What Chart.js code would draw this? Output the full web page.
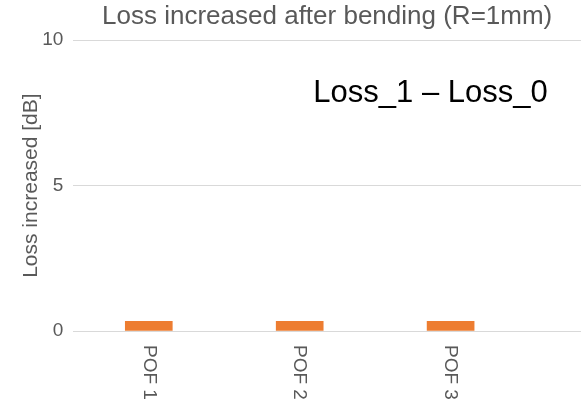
<!DOCTYPE html>
<html>
<head>
<meta charset="utf-8">
<script src="https://cdn.jsdelivr.net/npm/chart.js@4.4.0/dist/chart.umd.min.js"></script>
<style>
    body { margin: 0; background: #fff; }
    #wrap { width: 581px; height: 405px; position: relative; }
</style>
</head>
<body>
<div id="wrap"><canvas id="loss-chart"></canvas></div>
<script>
const categories = ['POF 1', 'POF 2', 'POF 3'];
const lossValues = [0.33, 0.33, 0.33];
const yTicks = [0, 5, 10];

const chartTitle = 'Loss increased after bending (R=1mm)';
const yTitle = 'Loss increased [dB]';
const noteText = 'Loss_1 \u2013 Loss_0';

const FONT = '"Liberation Sans", Arial, sans-serif';
const GREY = '#595959';

// x labels read top-to-bottom, chart.js only rotates the other way so draw them here
const xLabelsPlugin = {
    id: 'xLabels',
    afterDraw(chart) {
        const ctx = chart.ctx;
        const x = chart.scales.x;
        ctx.save();
        ctx.font = '19px ' + FONT;
        ctx.fillStyle = GREY;
        ctx.textAlign = 'left';
        ctx.textBaseline = 'middle';
        for (let i in categories) {
            const px = x.getPixelForValue(Number(i) + 1);
            ctx.save();
            ctx.translate(px, chart.chartArea.bottom + 14);
            ctx.rotate(Math.PI / 2);
            ctx.fillText(categories[i], 0, 0);
            ctx.restore();
        }
        ctx.restore();
    }
};

const notePlugin = {
    id: 'note',
    afterDraw(chart) {
        const ctx = chart.ctx;
        ctx.save();
        ctx.font = '31px ' + FONT;
        ctx.fillStyle = '#000';
        ctx.textAlign = 'left';
        ctx.textBaseline = 'alphabetic';
        ctx.fillText(noteText, chart.chartArea.left + 240, chart.scales.y.getPixelForValue(7.87));
        ctx.restore();
    }
};

new Chart(document.getElementById('loss-chart'), {
    type: 'bar',
    data: {
        datasets: [{
            data: categories.map((c, i) => ({ x: i + 1, y: lossValues[i] })),
            backgroundColor: '#ED7D31',
            borderWidth: 0,
            barThickness: 47
        }]
    },
    options: {
        responsive: true,
        maintainAspectRatio: false,
        animation: false,
        layout: { padding: { top: 0, right: 0, left: 19, bottom: 0 } },
        plugins: {
            legend: { display: false },
            tooltip: { enabled: false },
            title: {
                display: true,
                text: chartTitle,
                fullSize: false,
                color: GREY,
                font: { size: 26, family: FONT, weight: 'normal' },
                padding: { top: 1, bottom: 8 }
            }
        },
        scales: {
            x: {
                type: 'linear',
                offset: false,
                min: 0.5,
                max: 3.864,
                grid: { display: false },
                border: { display: false },
                ticks: { display: false },
                afterFit: s => { s.height = 74; }
            },
            y: {
                min: 0,
                max: 10,
                afterBuildTicks: s => { s.ticks = yTicks.map(v => ({ value: v })); },
                grid: { color: '#d9d9d9', drawTicks: false },
                border: { display: false },
                ticks: {
                    color: GREY,
                    font: { size: 19, family: FONT },
                    padding: 10
                },
                title: {
                    display: true,
                    text: yTitle,
                    color: GREY,
                    font: { size: 21, family: FONT },
                    padding: { top: 0, bottom: -12 }
                }
            }
        }
    },
    plugins: [xLabelsPlugin, notePlugin]
});
</script>
</body>
</html>
